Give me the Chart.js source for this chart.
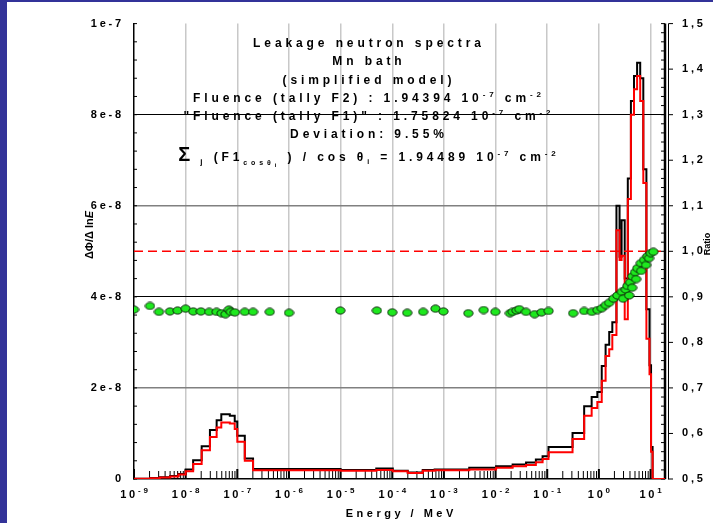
<!DOCTYPE html>
<html>
<head>
<meta charset="utf-8">
<script src="https://cdn.jsdelivr.net/npm/chart.js@4.4.1/dist/chart.umd.min.js"></script>
<style>
    html, body { margin: 0; padding: 0; background: #fff; }
    #wrap { width: 713px; height: 523px; }
</style>
</head>
<body>
<div id="wrap"><canvas id="graph" width="713" height="523"></canvas></div>
<script>
    // log10(E / MeV) of the histogram bin edges
    var binEdges = [-9, -8.69, -8.5, -8.3, -8.14, -8.0, -7.855, -7.69, -7.53, -7.40, -7.31, -7.145, -7.05, -7.0,
        -6.855, -6.695, -5.0, -4.31, -3.99, -3.70, -3.41, -3.18, -2.51, -1.99, -1.67, -1.41, -1.22, -1.09, -0.975,
        -0.51, -0.285, -0.14, -0.03, 0.055, 0.13, 0.20, 0.26, 0.34, 0.40, 0.44, 0.50, 0.56, 0.62, 0.68, 0.74, 0.80,
        0.86, 0.92, 0.98, 1.01, 1.04, 1.28];

    // dPhi / dlnE per bin, tally F2 (black) and tally F1 (red)
    var fluenceF2 = [0.005e-8, 0.02e-8, 0.04e-8, 0.065e-8, 0.11e-8, 0.21e-8, 0.41e-8, 0.72e-8, 1.075e-8, 1.29e-8,
        1.42e-8, 1.39e-8, 1.26e-8, 0.95e-8, 0.45e-8, 0.22e-8, 0.20e-8, 0.23e-8, 0.18e-8, 0.145e-8, 0.20e-8, 0.21e-8,
        0.245e-8, 0.28e-8, 0.32e-8, 0.36e-8, 0.43e-8, 0.50e-8, 0.70e-8, 1.01e-8, 1.60e-8, 1.80e-8, 1.91e-8, 2.48e-8,
        2.95e-8, 3.23e-8, 3.44e-8, 6.0e-8, 4.88e-8, 5.68e-8, 4.4e-8, 6.6e-8, 8.3e-8, 8.85e-8, 9.14e-8, 8.8e-8,
        6.8e-8, 3.73e-8, 2.5e-8, 0.7e-8, 0];
    var fluenceF1 = [0.004e-8, 0.015e-8, 0.035e-8, 0.055e-8, 0.10e-8, 0.17e-8, 0.33e-8, 0.63e-8, 0.92e-8, 1.13e-8,
        1.24e-8, 1.22e-8, 1.10e-8, 0.82e-8, 0.40e-8, 0.19e-8, 0.18e-8, 0.20e-8, 0.17e-8, 0.13e-8, 0.18e-8, 0.19e-8,
        0.21e-8, 0.245e-8, 0.28e-8, 0.31e-8, 0.37e-8, 0.44e-8, 0.59e-8, 0.88e-8, 1.39e-8, 1.56e-8, 1.69e-8, 2.16e-8,
        2.70e-8, 2.85e-8, 3.16e-8, 5.46e-8, 4.81e-8, 4.9e-8, 3.51e-8, 6.15e-8, 8.0e-8, 8.56e-8, 8.85e-8, 8.3e-8,
        6.5e-8, 3.08e-8, 2.3e-8, 0.6e-8, 0];

    // ratio points (right axis): log10(E / MeV) and ratio value
    var ratioLogE = [-9.0, -8.691, -8.517, -8.304, -8.156, -8.001, -7.854, -7.705, -7.545, -7.402, -7.305, -7.228,
        -7.164, -7.126, -7.048, -6.855, -6.695, -6.372, -5.999, -5.006, -4.299, -4.001, -3.711, -3.402, -3.164,
        -3.010, -2.527, -2.231, -2.005, -1.721, -1.670, -1.593, -1.541, -1.412, -1.245, -1.110, -0.975, -0.498,
        -0.285, -0.136, -0.028, 0.057, 0.134, 0.198, 0.281, 0.359, 0.443, 0.469, 0.521, 0.552, 0.585, 0.604,
        0.643, 0.648, 0.700, 0.720, 0.745, 0.811, 0.817, 0.874, 0.913, 0.938, 0.971, 1.004, 1.054];
    var ratioValues = [0.872, 0.880, 0.867, 0.868, 0.870, 0.874, 0.868, 0.868, 0.867, 0.867, 0.864, 0.862,
        0.872, 0.867, 0.866, 0.867, 0.867, 0.867, 0.865, 0.870, 0.870, 0.866, 0.865, 0.867, 0.874,
        0.868, 0.864, 0.871, 0.867, 0.864, 0.867, 0.870, 0.873, 0.867, 0.862, 0.866, 0.869, 0.864,
        0.869, 0.867, 0.871, 0.875, 0.882, 0.887, 0.896, 0.903, 0.911, 0.896, 0.916, 0.924, 0.903, 0.932,
        0.920, 0.945, 0.954, 0.939, 0.963, 0.974, 0.957, 0.981, 0.970, 0.989, 0.985, 0.996, 0.999];

    var energyDecades = [-9, -8, -7, -6, -5, -4, -3, -2, -1, 0, 1];
    var fluenceTicks = [0, 2e-8, 4e-8, 6e-8, 8e-8, 1e-7];
    var ratioTicks = [0.5, 0.6, 0.7, 0.8, 0.9, 1.0, 1.1, 1.2, 1.3, 1.4, 1.5];

    var FAMILY = '"Liberation Sans", Arial, sans-serif';

    function histogram(values) {
        var pts = [];
        for (var i = 0; i < values.length; i++) {
            pts.push({ x: binEdges[i], y: values[i] });
            pts.push({ x: binEdges[i + 1], y: values[i] });
        }
        return pts;
    }

    function makeDot() {
        var c = document.createElement('canvas');
        c.width = 11; c.height = 9;
        var g = c.getContext('2d');
        g.beginPath();
        g.ellipse(5.5, 4.5, 4.6, 3.6, 0, 0, Math.PI * 2);
        g.fillStyle = '#1ee81e';
        g.fill();
        g.lineWidth = 1;
        g.strokeStyle = '#0a2a0a';
        g.stroke();
        return c;
    }

    function setSpacing(ctx, px) {
        if ('letterSpacing' in ctx) ctx.letterSpacing = px + 'px';
    }

    // draws a run of text pieces (with their own font and vertical offset) centered on cx
    function drawRun(ctx, parts, cx, y, spacing) {
        var total = 0;
        setSpacing(ctx, 0);
        parts.forEach(function (p) {
            ctx.font = p.f;
            p.w = ctx.measureText(p.t).width + spacing * p.t.length;
            total += p.w;
        });
        var x = cx - (total - spacing) / 2;
        setSpacing(ctx, spacing);
        ctx.textAlign = 'left';
        ctx.textBaseline = 'alphabetic';
        parts.forEach(function (p) {
            ctx.font = p.f;
            ctx.fillText(p.t, x, y + (p.dy || 0));
            x += p.w;
        });
        setSpacing(ctx, 0);
    }

    var decorPlugin = {
        id: 'decor',
        beforeDraw: function (chart) {
            var ctx = chart.ctx;
            ctx.save();
            ctx.fillStyle = '#fff';
            ctx.fillRect(0, 0, chart.width, chart.height);
            ctx.fillStyle = '#333399';
            ctx.fillRect(0, 0, 7, chart.height);
            ctx.fillRect(0, 0, chart.width, 2);
            ctx.restore();
            // letter spacing for the tick labels the scales draw next
            setSpacing(ctx, 2.8);
        },
        beforeDatasetsDraw: function (chart) {
            var ctx = chart.ctx, a = chart.chartArea;
            var xs = chart.scales.x, ys = chart.scales.y, yr = chart.scales.y2;
            setSpacing(ctx, 0);
            ctx.save();
            ctx.strokeStyle = '#000';
            function seg(x1, y1, x2, y2) {
                ctx.beginPath(); ctx.moveTo(x1, y1); ctx.lineTo(x2, y2); ctx.stroke();
            }
            // log ticks on the energy axis, pointing up
            for (var k = -9; k <= 1; k++) {
                for (var m = 1; m <= 9; m++) {
                    var lv = k + Math.log10(m);
                    if (lv > xs.max) break;
                    var px = xs.getPixelForValue(lv);
                    ctx.lineWidth = m === 1 ? 2 : 1;
                    seg(px, a.bottom, px, a.bottom - (m === 1 ? 10 : 8));
                }
            }
            // minor ticks on the left axis
            ctx.lineWidth = 1;
            for (var i = 0; i <= 25; i++) {
                var py = ys.getPixelForValue(i * 4e-9);
                seg(a.left, py, a.left + 3, py);
            }
            // ratio axis: inner ticks, axis lines and outer ticks
            for (var j = 0; j <= 50; j++) {
                var ry = yr.getPixelForValue(0.5 + j * 0.02);
                seg(a.right - 4, ry, a.right, ry);
            }
            ctx.lineWidth = 2.5;
            seg(a.right, a.top, a.right, a.bottom);
            ctx.lineWidth = 1;
            seg(a.right + 3.5, a.top, a.right + 3.5, a.bottom + 0.5);
            ratioTicks.forEach(function (r) {
                var ty = yr.getPixelForValue(r);
                seg(a.right + 3.5, ty, a.right + 8, ty);
            });
            ctx.restore();
        },
        afterDraw: function (chart) {
            var ctx = chart.ctx, a = chart.chartArea, xs = chart.scales.x;
            var B = 'bold 12px ' + FAMILY, S = 'bold 8px ' + FAMILY, T = 'bold 7px ' + FAMILY;
            ctx.save();
            ctx.fillStyle = '#000';

            // energy decade labels: 10 with a raised exponent
            energyDecades.forEach(function (k) {
                drawRun(ctx, [{ t: '10', f: 'bold 11px ' + FAMILY },
                    { t: String(k), f: 'bold 8px ' + FAMILY, dy: -5 }], xs.getPixelForValue(k), 498, 2.8);
            });

            var cx = 367, sp = 3.9;
            drawRun(ctx, [{ t: 'Leakage neutron spectra', f: B }], cx, 47, sp);
            drawRun(ctx, [{ t: 'Mn bath', f: B }], cx, 65, sp);
            drawRun(ctx, [{ t: '(simplified model)', f: B }], cx, 84, sp);
            drawRun(ctx, [{ t: 'Fluence (tally F2) : 1.94394 10', f: B }, { t: '-7', f: S, dy: -5 },
                { t: ' cm', f: B }, { t: '-2', f: S, dy: -5 }], cx, 102, sp);
            drawRun(ctx, [{ t: '"Fluence (tally F1)" : 1.75824 10', f: B }, { t: '-7', f: S, dy: -5 },
                { t: ' cm', f: B }, { t: '-2', f: S, dy: -5 }], cx, 120, sp);
            drawRun(ctx, [{ t: 'Deviation: 9.55%', f: B }], cx, 138, sp);
            drawRun(ctx, [{ t: '\u03A3', f: 'bold 20px ' + FAMILY }, { t: ' j', f: S, dy: 3 },
                { t: ' (F1', f: B }, { t: 'cos\u03B8', f: T, dy: 4 }, { t: 'i', f: 'bold 6px ' + FAMILY, dy: 6 },
                { t: ' ) / cos \u03B8', f: B }, { t: 'i', f: T, dy: 3 },
                { t: ' = 1.94489 10', f: B }, { t: '-7', f: S, dy: -5 },
                { t: ' cm', f: B }, { t: '-2', f: S, dy: -5 }], cx, 161, sp);

            // axis titles
            drawRun(ctx, [{ t: 'Energy / MeV', f: 'bold 11px ' + FAMILY }], (a.left + a.right) / 2, 517, 3.5);

            ctx.save();
            ctx.translate(93, 235);
            ctx.rotate(-Math.PI / 2);
            drawRun(ctx, [{ t: '\u0394\u03A6/\u0394 ln', f: 'bold 11px ' + FAMILY },
                { t: 'E', f: 'italic bold 11px ' + FAMILY }], 0, 0, 0);
            ctx.restore();

            ctx.save();
            ctx.translate(710, 244);
            ctx.rotate(-Math.PI / 2);
            drawRun(ctx, [{ t: 'Ratio', f: 'bold 9px ' + FAMILY }], 0, 0, 0);
            ctx.restore();
            ctx.restore();
        }
    };

    var tickFont = { family: FAMILY, size: 11, weight: 'bold' };

    var config = {
        type: 'line',
        data: {
            datasets: [{
                label: 'Ratio F1 / F2',
                data: ratioLogE.map(function (e, i) { return { x: e, y: ratioValues[i] }; }),
                yAxisID: 'y2',
                showLine: false,
                pointStyle: makeDot(),
                pointRadius: 5,
                order: 0
            }, {
                label: 'Ratio = 1',
                data: [{ x: -9, y: 1 }, { x: 1.28, y: 1 }],
                yAxisID: 'y2',
                borderColor: '#ff0000',
                borderWidth: 1.5,
                borderDash: [9, 5],
                pointRadius: 0,
                order: 1
            }, {
                label: 'Fluence (tally F1)',
                data: histogram(fluenceF1),
                yAxisID: 'y',
                borderColor: '#ff0000',
                borderWidth: 2,
                pointRadius: 0,
                order: 2
            }, {
                label: 'Fluence (tally F2)',
                data: histogram(fluenceF2),
                yAxisID: 'y',
                borderColor: '#000000',
                borderWidth: 2,
                pointRadius: 0,
                order: 3
            }]
        },
        options: {
            responsive: false,
            animation: false,
            events: [],
            layout: { padding: { top: 17, left: 0, right: 0, bottom: 0 } },
            plugins: { legend: { display: false }, tooltip: { enabled: false } },
            scales: {
                x: {
                    type: 'linear',
                    min: -9,
                    max: 1.28,
                    afterBuildTicks: function (s) {
                        s.ticks = energyDecades.map(function (v) { return { value: v }; });
                    },
                    afterFit: function (s) { s.height = 44; },
                    ticks: { display: false, autoSkip: false },
                    grid: {
                        color: function (c) { return c.tick && c.tick.value === -9 ? 'rgba(0,0,0,0)' : '#c8c8c8'; },
                        lineWidth: 1.5,
                        drawTicks: false
                    },
                    border: { color: '#000', width: 1.5 }
                },
                y: {
                    position: 'left',
                    min: 0,
                    max: 1e-7,
                    afterBuildTicks: function (s) {
                        s.ticks = fluenceTicks.map(function (v) { return { value: v }; });
                    },
                    afterFit: function (s) { s.width = 134; },
                    ticks: {
                        callback: function (v) { return v === 0 ? '0' : v.toExponential(0); },
                        font: tickFont,
                        color: '#000',
                        padding: 10
                    },
                    grid: {
                        color: function (c) {
                            var v = c.tick ? c.tick.value : 0;
                            if (v === 4e-8 || v === 8e-8) return '#000';
                            if (v === 2e-8 || v === 6e-8) return '#808080';
                            return 'rgba(0,0,0,0)';
                        },
                        lineWidth: function (c) {
                            var v = c.tick ? c.tick.value : 0;
                            return (v === 4e-8 || v === 8e-8) ? 1 : 1.5;
                        },
                        drawTicks: false
                    },
                    border: { color: '#000', width: 1.5 }
                },
                y2: {
                    position: 'right',
                    min: 0.5,
                    max: 1.5,
                    afterBuildTicks: function (s) {
                        s.ticks = ratioTicks.map(function (v) { return { value: v }; });
                    },
                    afterFit: function (s) { s.width = 48; },
                    ticks: {
                        callback: function (v) { return v.toFixed(1).replace('.', ','); },
                        font: tickFont,
                        color: '#000',
                        padding: 17
                    },
                    grid: { drawOnChartArea: false, drawTicks: false },
                    border: { display: false }
                }
            }
        },
        plugins: [decorPlugin]
    };

    var chart = new Chart(document.getElementById('graph').getContext('2d'), config);
</script>
</body>
</html>
